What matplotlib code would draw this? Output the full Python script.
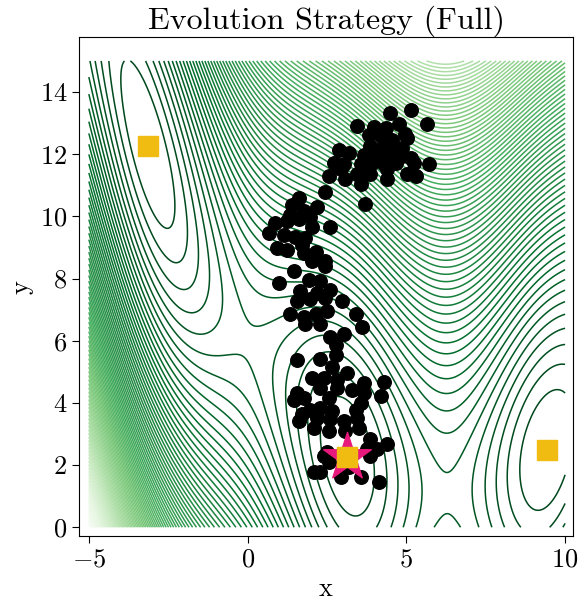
import numpy as np
import matplotlib
matplotlib.use("Agg")
import matplotlib.pyplot as plt

plt.rcParams["font.family"] = "serif"
plt.rcParams["font.serif"] = ["cmr10"]
plt.rcParams["mathtext.fontset"] = "cm"
plt.rcParams["axes.formatter.use_mathtext"] = True

# Branin function parameters
a, b, c = 1.0, 5.1 / (4 * np.pi ** 2), 5.0 / np.pi
r, s, t = 6.0, 10.0, 1.0 / (8 * np.pi)

# Global minima of the Branin function
min_x = [-np.pi, np.pi, 9.42478]
min_y = [12.275, 2.275, 2.475]

# Best solution found
best_x = [np.pi]
best_y = [2.275]

# Evolution strategy population samples
pop_x = [4.50, 5.14, 5.66, 3.43, 3.98, 4.35, 4.77, 4.96, 3.82, 4.19, 4.56, 5.03,
         3.87, 4.24, 4.61, 4.87, 2.87, 3.19, 3.66, 4.08, 4.50, 4.87, 5.14, 2.71,
         3.03, 3.56, 3.93, 4.29, 4.66, 5.24, 5.71, 2.93, 3.45, 3.87, 4.40, 5.03,
         5.29, 2.56, 3.08, 3.56, 4.40, 2.45, 3.71, 2.19,
         1.61, 1.40, 1.77, 1.35, 0.87, 1.24, 1.61, 1.98, 2.03, 2.61, 0.66, 1.14,
         1.50, 1.82, 0.93, 1.24, 1.72, 1.77, 2.14, 2.03, 2.45, 2.45, 1.45, 0.98,
         1.92, 2.29, 1.66, 2.19, 2.61, 1.56, 1.98, 2.45, 2.98, 1.35, 1.77, 2.14,
         2.51, 2.29, 3.40, 3.61, 2.61, 3.03, 1.82,
         2.77, 1.56, 2.29, 2.77, 2.66, 3.14, 2.03, 2.40, 2.82, 3.66, 4.29, 2.29,
         2.82, 3.29, 1.56, 1.77, 2.56, 3.66, 4.19, 1.45, 3.56, 1.98, 2.29, 2.66,
         3.40, 1.72, 2.19, 2.61, 3.03, 3.45, 1.61, 2.08, 2.56, 3.08, 3.50, 3.87,
         2.51, 2.56, 3.77, 4.08, 4.40, 2.08, 2.29, 2.93, 3.19, 3.56, 4.13, 2.40,
         3.87]
pop_y = [13.31, 13.41, 12.96, 12.90, 12.88, 12.85, 12.96, 12.64, 12.62, 12.57, 12.46, 12.51,
         12.25, 12.20, 12.20, 12.20, 12.14, 12.04, 11.98, 11.98, 11.98, 11.93, 11.88, 11.72,
         11.67, 11.67, 11.72, 11.67, 11.72, 11.72, 11.67, 11.51, 11.35, 11.35, 11.51, 11.35,
         11.30, 11.30, 11.19, 11.03, 11.19, 10.77, 10.40, 10.29,
         10.59, 10.37, 10.18, 10.03, 9.78, 9.85, 9.92, 9.97, 9.66, 9.66, 9.47, 9.39,
         9.34, 9.29, 8.97, 8.91, 9.07, 8.81, 8.86, 8.55, 8.55, 8.39, 8.23, 7.86,
         7.96, 7.91, 7.59, 7.54, 7.64, 7.28, 7.33, 7.38, 7.28, 6.85, 6.75, 6.85,
         6.96, 6.53, 6.85, 6.43, 6.11, 6.22, 6.53,
         5.85, 5.37, 5.42, 5.53, 5.16, 4.95, 4.79, 4.79, 4.74, 4.63, 4.68, 4.47,
         4.47, 4.42, 4.31, 4.15, 4.15, 4.31, 4.21, 4.10, 3.99, 3.78, 3.83, 3.73,
         3.78, 3.63, 3.52, 3.47, 3.41, 3.52, 3.41, 3.20, 3.10, 3.10, 3.20, 2.83,
         2.41, 2.09, 2.51, 2.51, 2.67, 1.77, 1.77, 1.61, 1.93, 1.61, 1.45, 2.30,
         2.30]

x_ticks = [-5, 0, 5, 10]
y_ticks = [0, 2, 4, 6, 8, 10, 12, 14]

xs = np.linspace(-5, 10, 500)
ys = np.linspace(0, 15, 500)
X, Y = np.meshgrid(xs, ys)
Z = a * (Y - b * X ** 2 + c * X - r) ** 2 + s * (1 - t) * np.cos(X) + s

fig = plt.figure(figsize=(5.78, 6.07), dpi=100)
ax = fig.add_axes([0.1367, 0.1165, 0.8547, 0.822])

levels = np.linspace(Z.min(), Z.max(), 95)
ax.contour(X, Y, Z, levels=levels, cmap="Greens_r", linewidths=1.1)

ax.scatter(pop_x, pop_y, s=95, color="black", zorder=3)
ax.scatter(best_x, best_y, s=1300, marker="*", color="#e8197c", zorder=4)
ax.scatter(min_x, min_y, s=220, marker="s", color="#f1bc12", zorder=5)

ax.set_xlim(-5.31, 10.25)
ax.set_ylim(-0.29, 15.76)
ax.set_xticks(x_ticks)
ax.set_yticks(y_ticks)
ax.tick_params(labelsize=19, length=5, direction="out")
ax.set_xlabel("x", fontsize=19)
ax.set_ylabel("y", fontsize=19)
ax.set_title("Evolution Strategy (Full)", fontsize=23)

fig.savefig("out.png", dpi=100)
